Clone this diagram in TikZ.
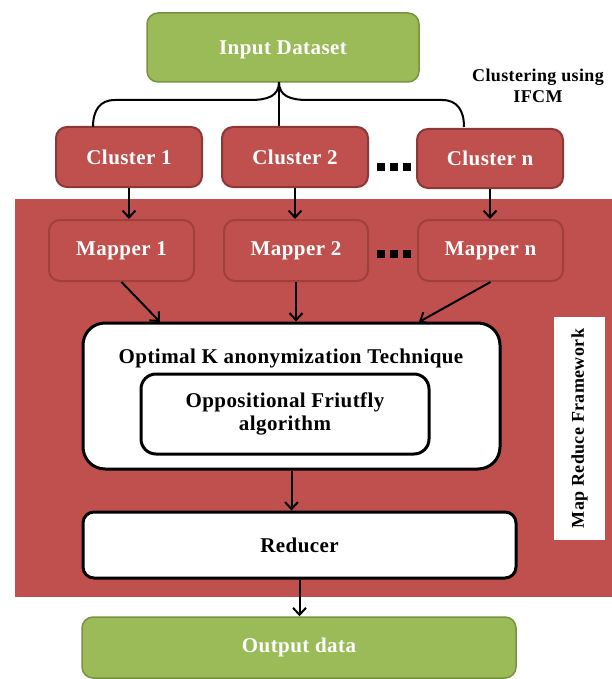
\documentclass[tikz,border=0pt]{standalone}
\usepackage{fontspec}
\setmainfont{Liberation Serif}[LetterSpace=2]
\usetikzlibrary{arrows.meta}
\definecolor{grn}{HTML}{9BBB59}
\definecolor{grnd}{HTML}{77933C}
\definecolor{rd}{HTML}{C0504D}
\definecolor{rdd}{HTML}{8C3836}
\definecolor{rdm}{HTML}{A0403D}
\tikzset{
  base/.style={rounded corners=11pt, font=\fontsize{21}{23}\selectfont\bfseries, align=center, inner sep=0pt},
  greenbox/.style={base, fill=grn, draw=grnd, line width=1.5pt, text=white},
  clusterbox/.style={base, fill=rd, draw=rdd, line width=2pt, text=white, minimum width=146pt, minimum height=60pt},
  mapperbox/.style={base, fill=rd, draw=rdm, line width=2pt, text=white, minimum width=145pt, minimum height=61pt},
  whitebox/.style={base, fill=white, draw=black, line width=3pt, text=black},
  arr/.style={line width=2pt, -{Straight Barb[length=7pt,width=13pt,line width=2pt]}},
  conn/.style={line width=2pt},
  dotsq/.style={fill=black, draw=none}
}
\begin{document}
\begin{tikzpicture}[x=1pt,y=-1pt]
\useasboundingbox (0,0) rectangle (611,679);
% red background
\fill[rd] (15,199) rectangle (615,597);
% top
\node[greenbox, minimum width=272pt, minimum height=69pt, text depth=-3pt] (inp) at (283,47.5) {Input Dataset};
\node[font=\fontsize{18}{21}\selectfont\bfseries, align=center, inner sep=0pt] (clab) at (538,86) {Clustering using\\IFCM};
% clusters
\node[clusterbox] (cl1) at (129,157) {Cluster 1};
\node[clusterbox] (cl2) at (295,157) {Cluster 2};
\node[clusterbox, minimum height=59pt] (cln) at (490,158.5) {Cluster n};
% brace connector
\coordinate (peak) at (279,82);
\draw[conn] (peak) -- (peak |- cl2.north);
\draw[conn] (peak) .. controls (279,96) and (268,100) .. (250,100) -- (115,100) .. controls (100,100) and (93,110) .. (93,127);
\draw[conn] (peak) .. controls (279,96) and (290,100) .. (308,100) -- (442,100) .. controls (457,100) and (464,110) .. (464,127);
% dots
\foreach \x in {377,390,403}{\fill[dotsq] (\x,163) rectangle ++(8,8);}
% mappers
\node[mapperbox] (map1) at (121.5,250.5) {Mapper 1};
\node[mapperbox, minimum width=144pt] (map2) at (296,250.5) {Mapper 2};
\node[mapperbox] (mapn) at (490.5,250.5) {Mapper n};
\foreach \x in {377,390,403}{\fill[dotsq] (\x,250) rectangle ++(8,8);}
\draw[arr] (cl1.south) -- (cl1.south |- map1.north);
\draw[arr] (cl2.south) -- (cl2.south |- map2.north);
\draw[arr] (cln.south) -- (cln.south |- mapn.north);
% optimal box
\node[whitebox, rounded corners=22pt, minimum width=417pt, minimum height=146pt] (opt) at (291.5,396) {};
\node[font=\fontsize{21}{23}\selectfont\bfseries, inner sep=0pt] (optt) at (291,358) {Optimal K anonymization Technique};
\node[whitebox, rounded corners=15pt, minimum width=288pt, minimum height=80pt, font=\fontsize{21}{23}\selectfont\bfseries] (inner) at (285,414) {Oppositional Friutfly\\algorithm};
\coordinate (o1) at (160,322);
\coordinate (on) at (419,322);
\draw[arr] (map1.south) -- (o1);
\draw[arr] (map2.south) -- (map2.south |- opt.north);
\draw[arr] (mapn.south) -- (on);
% reducer
\node[whitebox, minimum width=433pt, minimum height=66pt] (red) at (299.5,545) {Reducer};
\draw[arr] (opt.south) -- (opt.south |- red.north);
% output
\node[greenbox, minimum width=434pt, minimum height=61pt] (out) at (299,647.5) {Output data};
\draw[arr] (red.south) -- (red.south |- out.north);
% map reduce framework label
\node[fill=white, minimum width=51pt, minimum height=223pt, inner sep=0pt] (mrbox) at (579.5,428.5) {};
\node[rotate=90, font=\fontsize{18}{20}\selectfont\bfseries, inner sep=0pt] (mrlab) at (mrbox.center) {Map Reduce Framework};
\end{tikzpicture}
\end{document}
